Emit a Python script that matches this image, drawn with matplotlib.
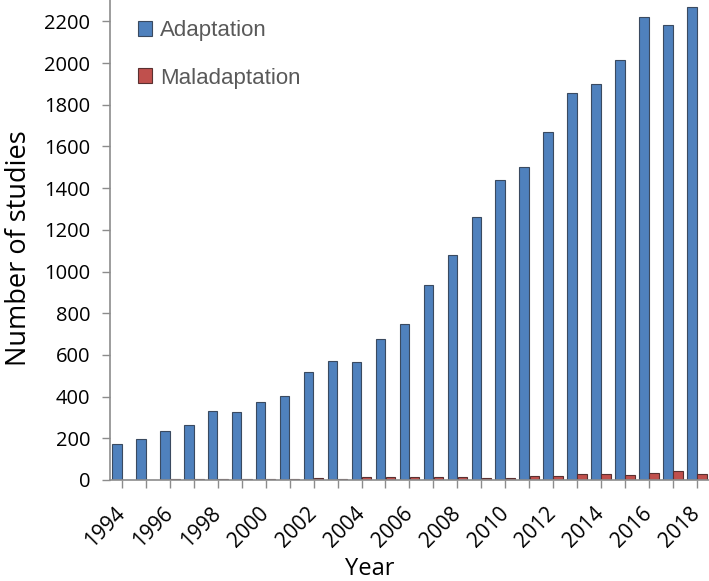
import numpy as np
import matplotlib
matplotlib.use("Agg")
import matplotlib.pyplot as plt

years = list(range(1994, 2019))
adaptation = [174, 197, 237, 263, 332, 327, 376, 402, 516, 570, 565, 675, 748,
              937, 1080, 1263, 1440, 1502, 1670, 1856, 1899, 2013, 2223, 2183, 2271]
maladaptation = [1, 1, 6, 5, 5, 5, 2, 2, 7, 5, 12, 12, 12,
                 13, 13, 11, 11, 18, 19, 29, 26, 22, 32, 42, 29]
yticks = list(range(0, 2201, 200))

fig = plt.figure(figsize=(7.09, 5.81), dpi=100)
ax = fig.add_axes([0.155, 0.174, 0.845, 0.826])

x = np.arange(len(years))
w = 0.4
ax.bar(x - 0.21, adaptation, w, color="#4F81BD", edgecolor="#3a4a60", linewidth=0.8,
       label="Adaptation")
ax.bar(x + 0.21, maladaptation, w, color="#C0504D", edgecolor="#5a3030", linewidth=0.8,
       label="Maladaptation")

ax.set_xlim(-0.5, len(years) - 0.5)
ax.set_ylim(0, 2303)

tick_font = "Open Sans"
ax.set_yticks(yticks)
ax.set_yticklabels([str(v) for v in yticks], fontsize=14.5, family=tick_font)
ax.set_xticks(x)
ax.set_xticklabels([str(y) if (y % 2 == 0) else "" for y in years],
                   rotation=45, ha="right", va="center", rotation_mode="anchor",
                   fontsize=15, family=tick_font)

ax.set_ylabel("Number of studies", fontsize=19.5, family=tick_font)
ax.yaxis.set_label_coords(-0.128, 0.483)
ax.set_xlabel("Year", fontsize=17, family=tick_font)
ax.xaxis.set_label_coords(0.433, -0.16)

for side in ["top", "right"]:
    ax.spines[side].set_visible(False)
for side in ["left", "bottom"]:
    ax.spines[side].set_color("#8c8c8c")
    ax.spines[side].set_linewidth(1.2)
ax.tick_params(axis="both", color="#8c8c8c", length=6, width=1)
ax.tick_params(axis="y", pad=8)
ax.tick_params(axis="x", pad=16)

leg = ax.legend(loc="upper left", bbox_to_anchor=(0.013, 1.0), frameon=False,
                handlelength=0.65, handleheight=0.65, handletextpad=0.35,
                labelspacing=1.2, prop={"family": "Liberation Sans", "size": 16})
for t in leg.get_texts():
    t.set_color("#595959")

fig.savefig("out.png", dpi=100)
